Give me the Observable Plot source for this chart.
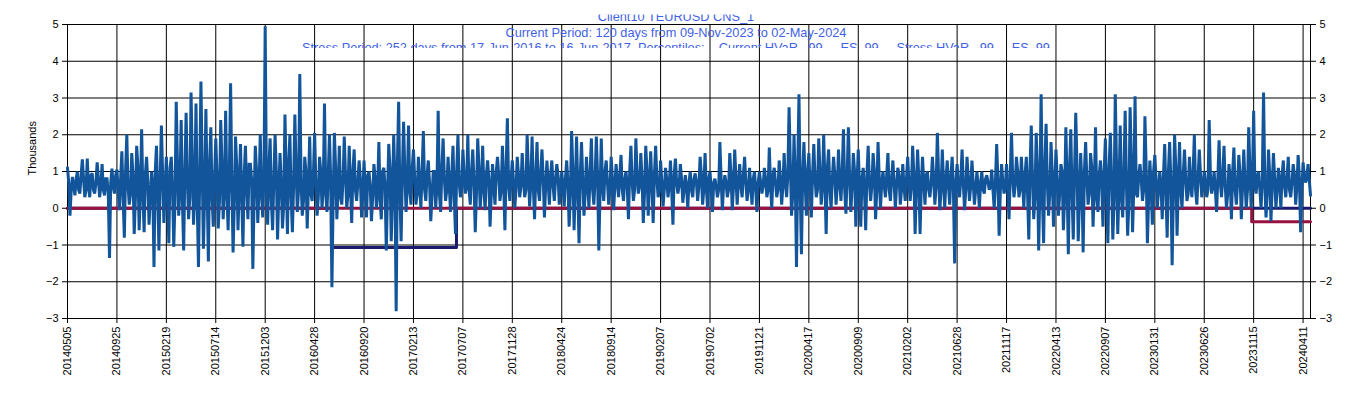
<!DOCTYPE html>
<html>
<head>
<meta charset="utf-8">
<script src="https://cdn.jsdelivr.net/npm/d3@7"></script>
<script src="https://cdn.jsdelivr.net/npm/@observablehq/plot@0.6"></script>
<style>
  html, body { margin: 0; padding: 0; background: #fff; }
  #wrap { position: relative; width: 1353px; height: 398px; overflow: hidden; }
  #title { position: absolute; left: 0; top: 0; pointer-events: none; }
</style>
</head>
<body>
<div id="wrap"></div>
<script>
// ---- Title text
const titleLines = [
  "Client10 TEURUSD CNS_1",
  "Current Period: 120 days from 09-Nov-2023 to 02-May-2024",
  "Stress Period: 252 days from 17-Jun-2016 to 16-Jun-2017, Percentiles:    Current HVaR_ 99,    ES_99,    Stress HVaR_ 99,    ES_99"
];

// ---- Category tick labels (every 100 trading days)
const dateLabels = ["20140505","20140925","20150219","20150714","20151203","20160428","20160920","20170213",
  "20170707","20171128","20180424","20180914","20190207","20190702","20191121","20200417","20200909",
  "20210202","20210628","20211117","20220413","20220907","20230131","20230626","20231115","20240411"];
const daysPerLabel = 100;
const lastDay = 2515;          // 02-May-2024
const yTicks = [-3, -2, -1, 0, 1, 2, 3, 4, 5];

// ---- Daily P&L (thousands), extremes read every 5 trading days
const sampleStep = 5;
const pnl = [
  1.1,-0.2, 0.85,0.35, 1.0,0.4, 1.33,0.3, 1.35,0.3, 0.95,0.4, 1.25,0.3, 1.2,0.35, 0.8,-1.35, 1.08,0.4,
  1.05,-0.05, 1.55,-0.8, 2.0,0.1, 1.5,-0.7, 1.7,-0.6, 2.15,-0.65, 1.4,-0.45, 1.0,-1.6, 1.7,-1.15, 2.25,-0.4,
  1.4,-0.95, 1.4,-1.05, 2.9,-0.2, 2.4,-1.15, 2.6,-0.3, 3.15,-0.45, 2.85,-1.6, 3.45,-1.1, 2.7,-1.45, 2.2,-0.5,
  1.9,-0.55, 2.4,-0.3, 2.65,-0.6, 3.4,-1.2, 1.95,-0.6, 1.75,-1.05, 1.7,-0.3, 1.2,-1.65, 1.7,-0.4, 2.0,-0.25,
  4.95,-0.45, 1.9,-0.6, 2.0,-0.85, 1.5,-0.55, 2.55,-0.7, 2.0,-0.65, 2.55,-0.1, 3.65,-0.2, 1.4,-0.55, 1.95,0.2,
  2.05,-0.2, 1.4,0.0, 2.85,-0.1, 2.0,-2.15, 2.05,-0.3, 1.7,0.1, 1.95,0.0, 1.7,-0.4, 1.6,0.2, 1.3,-0.25,
  1.3,-0.25, 1.0,-0.35, 1.2,0.0, 1.8,-0.3, 1.1,-1.15, 1.75,-0.9, 2.0,-2.8, 2.9,-0.9, 2.35,-0.1, 2.25,0.1,
  1.6,0.1, 1.4,0.0, 2.1,0.2, 1.3,-0.35, 1.0,0.0, 2.65,-0.1, 1.9,0.2, 1.4,-0.1, 1.7,-0.7, 2.0,0.3,
  1.6,0.4, 2.0,0.1, 1.6,-0.65, 1.9,0.0, 1.7,-0.05, 1.3,-0.5, 1.2,0.1, 1.4,0.2, 1.7,-0.6, 2.45,0.2,
  1.3,0.0, 1.4,0.3, 1.5,0.3, 2.0,0.05, 1.95,-0.3, 1.8,0.2, 1.6,-0.25, 1.3,0.1, 1.3,0.2, 1.2,0.1,
  1.0,0.05, 1.3,-0.5, 2.1,-0.6, 1.95,-0.95, 1.8,-0.2, 1.4,0.0, 1.9,0.1, 1.95,-1.15, 1.9,0.2, 1.3,0.1,
  1.4,-0.05, 1.2,0.3, 1.45,0.2, 1.0,-0.3, 1.7,0.2, 1.9,0.4, 1.5,-0.4, 1.7,-0.2, 1.55,-0.4, 1.7,0.3,
  1.3,0.05, 1.1,0.3, 1.3,-0.45, 1.35,0.4, 1.2,0.15, 0.9,0.0, 1.0,0.3, 0.95,0.2, 1.4,0.1, 1.5,0.0,
  1.0,-0.1, 0.8,0.3, 1.8,-0.05, 0.9,0.3, 1.5,-0.05, 1.6,0.1, 1.2,0.3, 1.4,0.2, 1.1,0.1, 1.0,-0.1,
  1.0,0.4, 1.1,0.3, 1.65,0.0, 1.1,0.3, 1.3,0.1, 1.5,0.3, 2.75,-0.2, 2.0,-1.6, 3.1,-1.25, 1.8,-0.2,
  1.5,-0.25, 1.75,0.3, 1.9,0.1, 2.0,-0.7, 1.6,0.0, 1.4,0.1, 1.6,0.2, 2.15,-0.15, 2.2,-0.1, 1.5,-0.5,
  1.6,-0.5, 1.1,-0.6, 1.7,0.2, 1.5,-0.3, 1.8,0.0, 1.0,0.3, 1.5,0.2, 1.3,0.0, 1.1,0.1, 1.2,0.2,
  1.4,0.2, 1.7,-0.7, 1.6,-0.7, 1.4,0.1, 1.0,0.3, 1.4,0.1, 2.05,-0.05, 1.6,0.0, 1.3,0.1, 1.4,-1.5,
  1.2,0.3, 1.6,-0.05, 1.4,0.2, 1.3,0.1, 1.0,0.0, 1.0,0.4, 0.9,0.5, 1.05,0.0, 1.75,-0.75, 1.2,0.4,
  1.2,-0.3, 2.05,0.3, 1.4,0.3, 1.4,0.0, 1.4,-0.85, 2.25,-0.3, 2.05,-1.15, 3.1,-0.95, 2.3,-0.2, 1.8,-0.5,
  1.6,-0.2, 1.2,-0.6, 2.2,-1.25, 2.15,-0.85, 2.6,-0.9, 1.5,-1.2, 1.8,0.1, 1.5,-0.5, 2.2,-0.1, 1.3,-0.5,
  1.9,-0.95, 2.05,-0.85, 3.1,-0.7, 2.25,-0.25, 2.65,-0.75, 2.75,-0.65, 3.05,0.3, 1.2,0.2, 2.5,-0.95, 1.3,-0.45,
  1.45,0.0, 1.0,-0.3, 1.75,-0.8, 1.8,-1.55, 2.0,-0.75, 1.8,0.0, 1.6,0.2, 1.4,0.3, 2.0,0.1, 1.6,0.3,
  1.0,0.3, 2.4,0.4, 1.0,-0.1, 1.85,0.3, 1.7,0.0, 1.2,-0.3, 1.65,0.1, 1.45,-0.3, 1.6,0.0, 2.2,0.0,
  2.65,0.4, 1.0,0.0, 3.15,-0.25, 1.6,-0.35, 1.5,0.0, 1.1,0.0, 1.3,0.3, 1.4,0.3, 1.2,0.1, 1.45,-0.65,
  1.25, 0.7, 1.2, 0.35
];
// ---- Daily P&L (thousands), core-band days read between the extremes above
const pnlCore = [
  0.7,0.5, 0.6,0.8, 0.5,0.9, 0.8,0.5, 0.6,0.9, 0.5,0.7, 0.8,0.6, 0.5,0.8, 0.4,0.7, 0.6,0.9,
  0.5,0.8, 0.3,1.0, 0.6,0.4, 0.9,0.3, 1.1,0.5, 0.4,0.9, 0.7,0.3, 0.6,1.0, 0.4,0.8, 0.9,0.5,
  0.3,1.1, 0.5,0.2, 1.2,0.6, 0.2,1.0, 0.8,0.3, 1.3,0.5, 0.1,0.9, 1.1,0.4, 0.6,1.2, 0.3,0.8,
  0.9,0.2, 1.2,0.5, 0.4,1.0, 0.7,0.1, 1.1,0.6, 0.3,0.9, 0.5,1.2, 0.8,0.2, 1.0,0.5, 0.4,0.9,
  0.6,1.1, 0.2,0.8, 1.0,0.4, 0.7,0.1, 0.9,1.2, 0.3,0.6, 1.1,0.5, 0.8,0.2, 1.0,0.6, 0.4,0.9,
  0.7,0.3, 1.0,0.6, 0.4,0.9, 0.8,0.2, 1.1,0.5, 0.3,0.8, 0.9,0.4, 0.6,1.0, 0.5,0.7, 0.8,0.4,
  0.5,0.9, 0.6,0.3, 0.8,0.5, 0.2,1.0, 0.6,0.4, 1.1,0.3, 0.7,1.2, 0.4,0.9, 1.0,0.6, 0.5,1.1,
  0.8,0.4, 0.6,1.0, 0.5,0.9, 0.7,0.3, 1.0,0.6, 0.4,1.1, 0.8,0.5, 0.6,0.9, 0.3,1.0, 0.7,0.5,
  0.9,0.6, 0.5,1.0, 0.7,0.4, 1.1,0.6, 0.5,0.9, 0.8,0.4, 0.6,1.0, 0.9,0.5, 0.7,1.1, 0.6,0.8,
  0.7,0.5, 0.9,0.6, 0.8,0.5, 1.0,0.7, 0.6,0.9, 0.5,1.0, 0.8,0.6, 0.7,0.9, 0.6,0.8, 0.9,0.5,
  0.6,0.8, 0.7,0.4, 1.0,0.6, 0.5,0.9, 0.8,0.4, 0.7,1.0, 0.5,0.8, 0.9,0.4, 0.6,1.0, 0.7,0.5,
  0.8,0.6, 0.7,0.9, 0.5,0.8, 0.6,1.0, 0.7,0.5, 0.9,0.6, 0.8,0.4, 1.0,0.7, 0.6,0.9, 0.8,0.5,
  0.7,0.5, 0.8,0.6, 0.5,0.9, 0.7,0.6, 0.8,0.5, 0.6,0.7, 0.5,0.8, 0.7,0.6, 0.9,0.5, 0.6,0.8,
  0.5,0.7, 0.6,0.5, 0.8,0.6, 0.7,0.5, 0.9,0.6, 0.8,0.7, 0.6,0.9, 0.7,0.5, 0.6,0.8, 0.5,0.7,
  0.7,0.6, 0.8,0.5, 0.6,0.9, 0.7,0.5, 0.8,0.6, 0.7,0.9, 1.2,0.4, 0.8,1.1, 0.5,0.9, 0.7,1.0,
  0.6,0.9, 0.8,0.5, 1.0,0.6, 0.7,1.1, 0.5,0.8, 0.9,0.6, 0.7,1.0, 0.5,0.9, 0.8,0.6, 1.0,0.7,
  0.6,0.8, 0.5,0.9, 0.7,0.6, 1.0,0.5, 0.8,0.7, 0.6,0.9, 0.5,0.8, 0.7,0.6, 0.9,0.5, 0.6,0.8,
  0.7,0.6, 0.9,0.5, 0.8,0.6, 0.7,0.9, 0.5,0.7, 0.8,0.6, 0.9,0.5, 0.7,0.8, 0.6,0.9, 0.5,0.7,
  0.6,0.8, 0.7,0.5, 0.8,0.6, 0.7,0.5, 0.6,0.7, 0.5,0.8, 0.7,0.6, 0.5,0.7, 0.8,0.5, 0.7,0.6,
  0.5,0.9, 0.8,0.6, 1.0,0.5, 0.7,0.9, 0.4,1.1, 0.8,0.3, 1.0,0.6, 0.3,1.2, 0.7,0.4, 0.9,0.6,
  0.8,0.4, 1.0,0.3, 0.7,1.1, 0.4,0.9, 1.2,0.2, 0.6,1.0, 0.8,0.4, 1.1,0.5, 0.3,0.9, 0.7,1.0,
  0.4,1.1, 0.8,0.2, 1.2,0.5, 0.3,1.0, 0.7,0.1, 1.3,0.6, 0.4,0.9, 0.8,0.5, 1.1,0.3, 0.6,1.0,
  0.8,0.5, 0.6,0.9, 0.4,1.0, 0.7,0.3, 1.1,0.6, 0.5,0.9, 0.8,0.4, 0.7,1.0, 0.5,0.8, 0.9,0.6,
  0.7,0.5, 0.9,0.6, 0.5,0.8, 0.7,0.9, 0.6,0.4, 0.8,1.0, 0.5,0.7, 0.9,0.6, 0.7,0.5, 1.0,0.8,
  0.6,0.9, 0.5,0.8, 0.7,0.4, 0.9,0.6, 0.8,0.5, 0.7,0.9, 0.6,0.8, 0.5,0.7, 0.9,0.6, 0.8,0.5,
  0.9, 0.8
];

// ---- Stress HVaR (navy) and Current HVaR (red) step series: trading-day index, value
const stressDays = [0, 534, 787, 2515];
const stressVals = [0, -1.07, 0, 0];
const currentDays = [0, 2396, 2515];
const currentVals = [0, -0.37, -0.37];

// merge the two readings in time order (extreme day, then the core day between it and the next)
const pnlData = [];
pnl.forEach((v, i) => {
  pnlData.push({day: i * sampleStep, v});
  if (i < pnlCore.length) pnlData.push({day: i * sampleStep + sampleStep / 2, v: pnlCore[i]});
});
const stressData = stressDays.map((d, i) => ({day: d, v: stressVals[i]}));
const currentData = currentDays.map((d, i) => ({day: d, v: currentVals[i]}));
const tickDays = dateLabels.map((_, i) => i * daysPerLabel);
const labelOf = new Map(tickDays.map((d, i) => [d, dateLabels[i]]));

const chart = Plot.plot({
  width: 1353,
  height: 398,
  marginLeft: 67,
  marginRight: 43,
  marginTop: 24,
  marginBottom: 80,
  style: {fontFamily: "'Liberation Sans', Arial, sans-serif", fontSize: "11px", background: "#fff", color: "#000"},
  x: {domain: [0, lastDay]},
  y: {domain: [-3, 5]},
  marks: [
    Plot.gridY(yTicks, {stroke: "#000", strokeOpacity: 1}),
    Plot.gridX(tickDays, {stroke: "#000", strokeOpacity: 1}),
    Plot.frame({stroke: "#000"}),
    Plot.line(stressData, {x: "day", y: "v", curve: "step-after", stroke: "#1c1a6e", strokeWidth: 3}),
    Plot.line(currentData, {x: "day", y: "v", curve: "step-after", stroke: "#97123f", strokeWidth: 3}),
    Plot.line(pnlData, {x: "day", y: "v", stroke: "#12559a", strokeWidth: 3, strokeLinejoin: "miter", strokeMiterlimit: 2}),
    Plot.axisY(yTicks, {anchor: "left", tickSize: 5, tickPadding: 4, label: null}),
    Plot.axisY(yTicks, {anchor: "right", tickSize: 5, tickPadding: 4, label: null}),
    Plot.axisX(tickDays, {anchor: "bottom", tickSize: 5, tickPadding: 3, tickRotate: -90, tickFormat: d => labelOf.get(d), label: null}),
    Plot.text(["Thousands"], {frameAnchor: "left", dx: -35, dy: 4, rotate: -90, fontSize: 11})
  ]
});
document.getElementById("wrap").appendChild(chart);

// ---- Title overlay (clipped like the reference)
const svg = d3.select("#wrap").append("svg")
  .attr("id", "title").attr("width", 1353).attr("height", 398);
svg.append("clipPath").attr("id", "tclip")
  .append("rect").attr("x", 0).attr("y", 14.5).attr("width", 1353).attr("height", 33.5);
const g = svg.append("g").attr("clip-path", "url(#tclip)");
const baselines = [21, 36.5, 51.5];
titleLines.forEach((t, i) => {
  g.append("text")
    .attr("x", 676).attr("y", baselines[i])
    .attr("text-anchor", "middle")
    .attr("fill", "#3f5fe6")
    .style("font-family", "'Liberation Sans', Arial, sans-serif")
    .style("font-size", "12.75px")
    .style("white-space", "pre")
    .attr("xml:space", "preserve")
    .text(t);
});
</script>
</body>
</html>
